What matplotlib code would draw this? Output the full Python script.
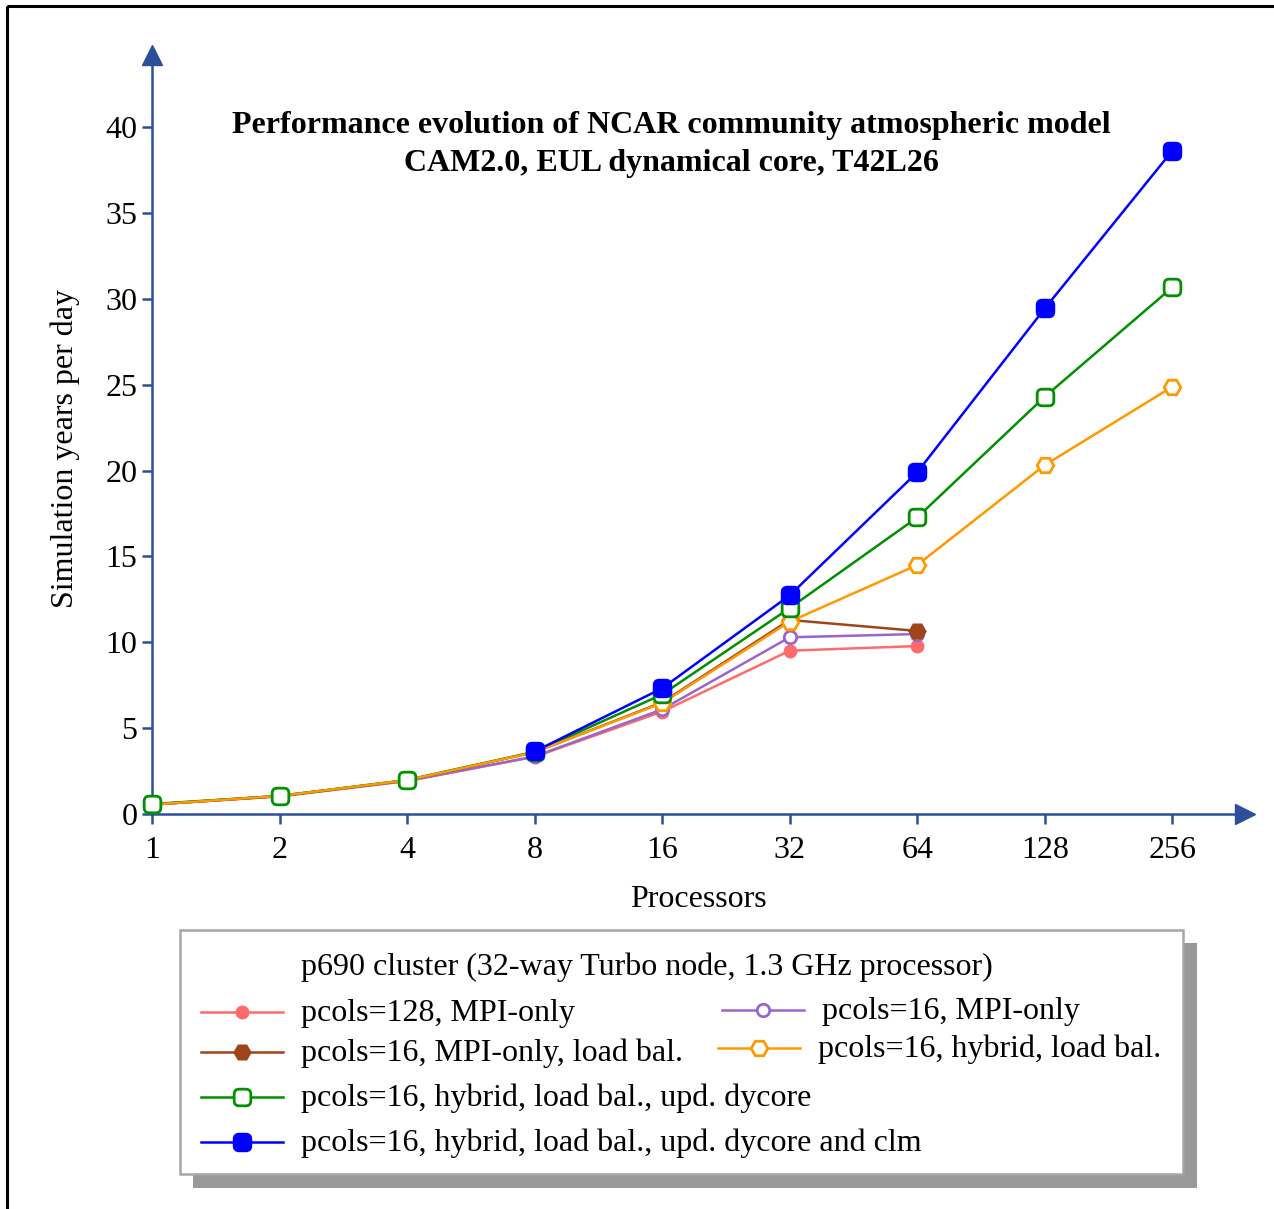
import numpy as np
import matplotlib.pyplot as plt
from matplotlib.markers import MarkerStyle
from matplotlib.patches import Rectangle, BoxStyle
from matplotlib.lines import Line2D

plt.rcParams['font.family'] = ['Liberation Serif', 'DejaVu Serif']

# data
procs = [1, 2, 4, 8, 16, 32, 64, 128, 256]
pcols128_mpi = [0.55, 1.03, 1.92, 3.33, 5.96, 9.51, 9.78]
pcols16_mpi = [0.55, 1.03, 1.93, 3.35, 6.09, 10.29, 10.48]
pcols16_mpi_lb = [0.55, 1.05, 1.96, 3.6, 6.5, 11.3, 10.66]
pcols16_hyb_lb = [0.55, 1.05, 1.97, 3.6, 6.46, 11.2, 14.5, 20.32, 24.88]
pcols16_hyb_dyc = [0.58, 1.05, 1.98, 3.62, 6.96, 11.99, 17.27, 24.3, 30.67]
pcols16_hyb_dyc_clm = [3.64, 7.32, 12.73, 19.9, 29.44, 38.62]
clm_procs = procs[3:]

legend_title = 'p690 cluster (32-way Turbo node, 1.3 GHz processor)'
labels = ['pcols=128, MPI-only', 'pcols=16, MPI-only',
          'pcols=16, MPI-only, load bal.', 'pcols=16, hybrid, load bal.',
          'pcols=16, hybrid, load bal., upd. dycore',
          'pcols=16, hybrid, load bal., upd. dycore and clm']

W, H = 1274, 1209
fig = plt.figure(figsize=(W / 100, H / 100), dpi=100)

axcol = '#2b4f9a'
fs = 23

# rounded square marker
rsq = BoxStyle.Round(pad=0, rounding_size=0.3)(-0.5, -0.5, 1, 1, 1)
rsq = MarkerStyle(rsq)

series = [
    (procs[:7], pcols128_mpi, '#ff6b6b', 'o', 8, True),
    (procs[:7], pcols16_mpi, '#9966cc', 'o', 9, False),
    (procs[:7], pcols16_mpi_lb, '#a0441a', 'H', 11, True),
    (procs, pcols16_hyb_lb, '#ff9900', 'H', 12, False),
    (procs, pcols16_hyb_dyc, '#009000', rsq, 12, False),
    (clm_procs, pcols16_hyb_dyc_clm, '#0000ff', rsq, 12, True),
]
line_z = [2.0, 2.1, 2.2, 2.4, 2.3, 2.5]

ax = fig.add_axes([152 / W, 1 - 814 / H, (1245 - 152) / W, (814 - 55) / H])
ax.set_xscale('log', base=2)
ax.set_xlim(1, 2 ** 8.57)
ax.set_ylim(0, 44.2)

for i, (x, y, c, m, ms, filled) in enumerate(series):
    ax.plot(x, y, color=c, lw=1.8, zorder=line_z[i], clip_on=False)
    ax.plot(x, y, ls='none', marker=m, ms=ms,
            mfc=c if filled else 'white', mec=c, mew=2,
            zorder=3 + i * 0.1, clip_on=False)

ax.set_xticks(procs)
ax.set_xticklabels([str(p) for p in procs])
ax.set_yticks(range(0, 45, 5))
ax.tick_params(colors=axcol, labelcolor='black', labelsize=fs,
               length=7, width=1.8, direction='out')
ax.tick_params(axis='x', pad=9)
ax.spines['top'].set_visible(False)
ax.spines['right'].set_visible(False)
for s in ['left', 'bottom']:
    ax.spines[s].set_color(axcol)
    ax.spines[s].set_linewidth(1.8)
# arrow heads
ax.plot(1, 0, '>', color=axcol, ms=14, transform=ax.transAxes, clip_on=False)
ax.plot(0, 1, '^', color=axcol, ms=14, transform=ax.transAxes, clip_on=False)

ax.set_xlabel('Processors', fontsize=fs, labelpad=14)
ax.set_ylabel('Simulation years per day', fontsize=fs)
ax.yaxis.set_label_coords(-0.066, 0.482)

fig.text(671 / W, 1 - 125 / H,
         'Performance evolution of NCAR community atmospheric model',
         ha='center', va='center', fontsize=fs, fontweight='bold')
fig.text(671 / W, 1 - 164 / H, 'CAM2.0, EUL dynamical core, T42L26',
         ha='center', va='center', fontsize=fs, fontweight='bold')

# overlay in pixel coords for frame and legend
ov = fig.add_axes([0, 0, 1, 1], zorder=10)
ov.set_xlim(0, W)
ov.set_ylim(H, 0)
ov.axis('off')
ov.add_patch(Rectangle((7, 6), W + 20, H + 20, fill=False, ec='black', lw=2.2))
ov.add_patch(Rectangle((193, 943), 1004, 245, fc='#999999', ec='none'))
ov.add_patch(Rectangle((180, 930), 1003, 244, fc='white', ec='#a6a6a6', lw=1.8))
ov.text(301, 967, legend_title, fontsize=fs, va='center')

entry_pos = [(201, 1012), (722, 1010), (201, 1052), (718, 1048),
             (201, 1097), (201, 1142)]
for (x0, y0), (x, y, c, m, ms, filled), lab in zip(entry_pos, series, labels):
    ov.add_line(Line2D([x0, x0 + 82], [y0, y0], color=c, lw=1.8))
    ov.plot(x0 + 41, y0, marker=m, ms=ms,
            mfc=c if filled else 'white', mec=c, mew=2)
    ov.text(x0 + 100, y0 + 1, lab, fontsize=fs, va='center')

fig.savefig('out.png', dpi=100)
